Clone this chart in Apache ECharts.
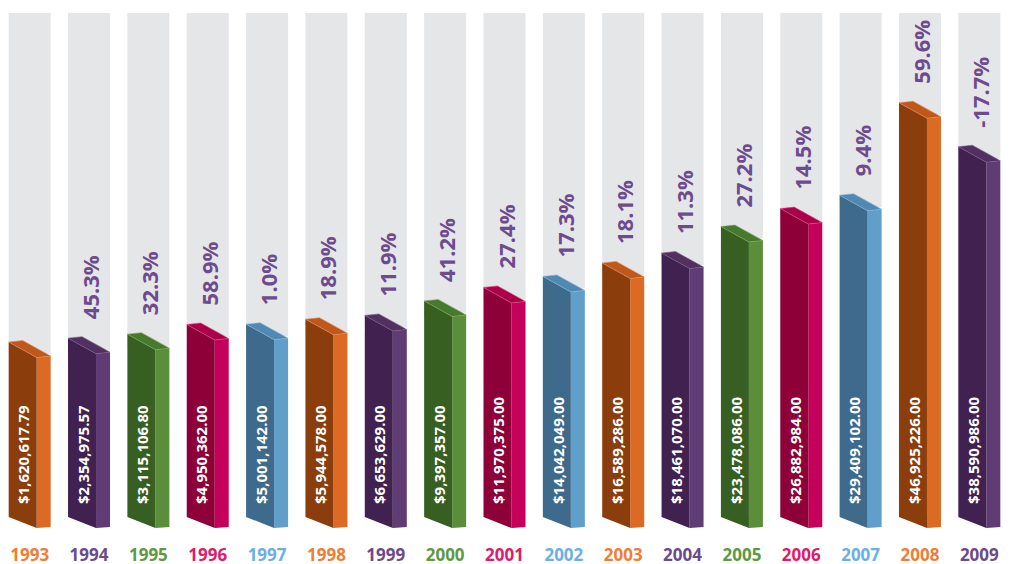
<!DOCTYPE html>
<html>
<head>
<meta charset="utf-8">
<script src="https://cdn.jsdelivr.net/npm/echarts@6/dist/echarts.min.js"></script>
<style>
html,body{margin:0;padding:0;background:#fff;}
#chart{width:1009px;height:564px;}
</style>
</head>
<body>
<div id="chart"></div>
<script>
var years = ['1993','1994','1995','1996','1997','1998','1999','2000','2001','2002','2003','2004','2005','2006','2007','2008','2009'];
var revenue = [1620617.79, 2354975.57, 3115106.80, 4950362.00, 5001142.00, 5944578.00, 6653629.00, 9397357.00, 11970375.00, 14042049.00, 16589286.00, 18461070.00, 23478086.00, 26882984.00, 29409102.00, 46925226.00, 38590986.00];
var growth = [null, 45.3, 32.3, 58.9, 1.0, 18.9, 11.9, 41.2, 27.4, 17.3, 18.1, 11.3, 27.2, 14.5, 9.4, 59.6, -17.7];

var palette = [
  {left:'#8B3D0C', right:'#DA6A24', top:'#C0581B', edge:'#E48A55', label:'#F07D35'},
  {left:'#41214F', right:'#5F3C74', top:'#52305F', edge:'#7A5A8C', label:'#6C4A8C'},
  {left:'#375F22', right:'#5B8E3B', top:'#487A2E', edge:'#78A65A', label:'#5E9A3F'},
  {left:'#8D0038', right:'#C4005A', top:'#AC0049', edge:'#D84D85', label:'#E01A6C'},
  {left:'#3E6A8B', right:'#619FCB', top:'#5089B3', edge:'#86B6D8', label:'#6BB0E0'}
];
var pctColor = '#6D4B8E';

function money(v){
  return '$' + v.toLocaleString('en-US', {minimumFractionDigits:2, maximumFractionDigits:2});
}

var seriesData = years.map(function(y, i){ return [i, revenue[i], growth[i]]; });

var chart = echarts.init(document.getElementById('chart'), null, {renderer:'svg'});
var yMin = -31300000, yMax = 63900000;

chart.setOption({
  animation:false,
  grid:{left:-0.6, right:-8, top:13, bottom:48, containLabel:false},
  xAxis:{
    type:'category', data:years,
    axisLine:{show:false}, axisTick:{show:false}, splitLine:{show:false},
    axisLabel:{
      margin:38, fontSize:17, lineHeight:14, verticalAlign:'middle', fontWeight:'bold', fontFamily:'Open Sans',
      color:function(v, i){ return palette[i % 5].label; }
    }
  },
  yAxis:{type:'value', min:yMin, max:yMax, show:false, splitLine:{show:false}},
  series:[{
    type:'custom',
    data:seriesData,
    encode:{x:0, y:1},
    renderItem:function(params, api){
      var i = api.value(0);
      var top = api.coord([i, api.value(1)]);
      var base = api.coord([i, yMin]);
      var cs = params.coordSys;
      var c = palette[i % 5];
      var x0 = top[0] - 21;
      var yT = top[1];
      var yB = base[1];
      var children = [];
      children.push({type:'rect', shape:{x:x0, y:cs.y, width:42, height:yT + 12 - cs.y}, style:{fill:'#E5E6E8'}});
      children.push({type:'polygon', shape:{points:[[x0+28, yT+15.5],[x0+42, yT+14],[x0+42, yB+11],[x0+28, yB+12]]}, style:{fill:c.right}});
      children.push({type:'polygon', shape:{points:[[x0, yT],[x0+28, yT+15.5],[x0+28, yB+12],[x0, yB+1]]}, style:{fill:c.left}});
      children.push({type:'polygon', shape:{points:[[x0, yT],[x0+14, yT-1.5],[x0+42, yT+14],[x0+28, yT+15.5]]}, style:{fill:c.top, stroke:c.edge, lineWidth:0.6}});
      children.push({type:'text', x:x0+14.7, y:504, rotation:Math.PI/2,
        style:{text:money(api.value(1)), fill:'#ffffff', font:'bold 15px "Open Sans"', align:'left', verticalAlign:'middle'}});
      var g = api.value(2);
      if (g !== null && g !== undefined && !isNaN(g)) {
        children.push({type:'text', x:x0+22, y:yT-19, rotation:Math.PI/2,
          style:{text:g.toFixed(1) + '%', fill:pctColor, font:'bold 22px "Open Sans"', align:'left', verticalAlign:'middle'}});
      }
      return {type:'group', children:children};
    }
  }]
});
</script>
</body>
</html>
